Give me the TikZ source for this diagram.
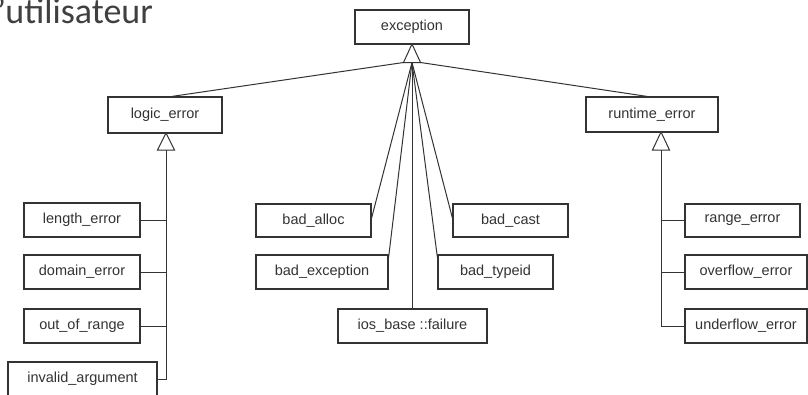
\documentclass[tikz,border=0pt]{standalone}
\usepackage{fontspec}
\setmainfont{Liberation Sans}
\newfontfamily\titlefont{Carlito}
\definecolor{ink}{HTML}{333333}
\definecolor{titlegray}{HTML}{404040}
\begin{document}
\begin{tikzpicture}[x=1pt,y=-1pt,
  cls/.style={draw=ink, line width=1.2pt, fill=white, rectangle, inner sep=0pt,
    text=ink, font=\fontsize{14.5}{16}\selectfont, minimum height=34pt},
  link/.style={draw=ink, line width=1pt},
  inh/.style={draw=ink, line width=1pt, fill=white, line join=miter}
]
\useasboundingbox (0,0) rectangle (808,394);
\fill[white] (0,0) rectangle (808,394);

% title fragment
\node[anchor=base west, inner sep=0pt, text=titlegray, font=\titlefont\fontsize{36}{40}\selectfont] (title) at (-3,23) {’utilisateur};

% boxes
\node[cls, minimum width=114pt] (exc) at (412,27) {exception};
\node[cls, minimum width=114pt, minimum height=36pt] (logic) at (165,115) {logic\_error};
\node[cls, minimum width=132pt, minimum height=35pt] (runtime) at (652,114.5) {runtime\_error};

\node[cls, minimum width=116pt] (length) at (82,220) {length\_error};
\node[cls, minimum width=116pt] (domain) at (82,272) {domain\_error};
\node[cls, minimum width=116pt] (oor) at (82,326) {out\_of\_range};
\node[cls, minimum width=149pt] (inv) at (82.5,379) {invalid\_argument};

\node[cls, minimum width=115pt, minimum height=33pt] (balloc) at (313.5,220.5) {bad\_alloc};
\node[cls, minimum width=132pt] (bexc) at (322,272) {bad\_exception};
\node[cls, minimum width=149pt] (ios) at (412.5,326) {ios\_base ::failure};
\node[cls, minimum width=115pt] (btype) at (495.5,272) {bad\_typeid};
\node[cls, minimum width=115pt, minimum height=33pt] (bcast) at (510.5,220.5) {bad\_cast};

\node[cls, minimum width=115pt, minimum height=33pt] (range) at (742.5,220.5) {range\_error};
\node[cls, minimum width=122pt] (over) at (746,272) {overflow\_error};
\node[cls, minimum width=122pt] (under) at (746,326) {underflow\_error};

% inheritance triangle points
\coordinate (exA) at (412,44);
\coordinate (exL) at (403.5,62.5);
\coordinate (exR) at (420.5,62.5);
\coordinate (exM) at (412,62.5);
\coordinate (lgA) at (166,133);
\coordinate (lgL) at (157.5,150);
\coordinate (lgR) at (174.5,150);
\coordinate (lgM) at (166,150);
\coordinate (rtA) at (661,132);
\coordinate (rtL) at (652.5,150);
\coordinate (rtR) at (669.5,150);
\coordinate (rtM) at (661,150);

% connectors to exception
\draw[link] ([xshift=7pt]logic.north) -- (exL);
\draw[link] ([xshift=-5pt]runtime.north) -- (exR);
\draw[link] ([yshift=2.5pt]balloc.east) -- (exM);
\draw[link] ([yshift=-3pt]bexc.north east) -- (exM);
\draw[link] (ios.north -| exM) -- (exM);
\draw[link] ([yshift=-3pt]btype.north west) -- (exM);
\draw[link] ([yshift=2.5pt]bcast.west) -- (exM);

% left bus
\draw[link] (lgM) -- (lgM |- inv.east) -- (inv.east);
\draw[link] (length.east) -- (length.east -| lgM);
\draw[link] (domain.east) -- (domain.east -| lgM);
\draw[link] (oor.east) -- (oor.east -| lgM);

% right bus
\draw[link] (rtM) -- (rtM |- under.west) -- (under.west);
\draw[link] (range.west) -- (range.west -| rtM);
\draw[link] (over.west) -- (over.west -| rtM);

% triangles
\draw[inh] (exA) -- (exL) -- (exR) -- cycle;
\draw[inh] (lgA) -- (lgL) -- (lgR) -- cycle;
\draw[inh] (rtA) -- (rtL) -- (rtR) -- cycle;
\end{tikzpicture}
\end{document}
